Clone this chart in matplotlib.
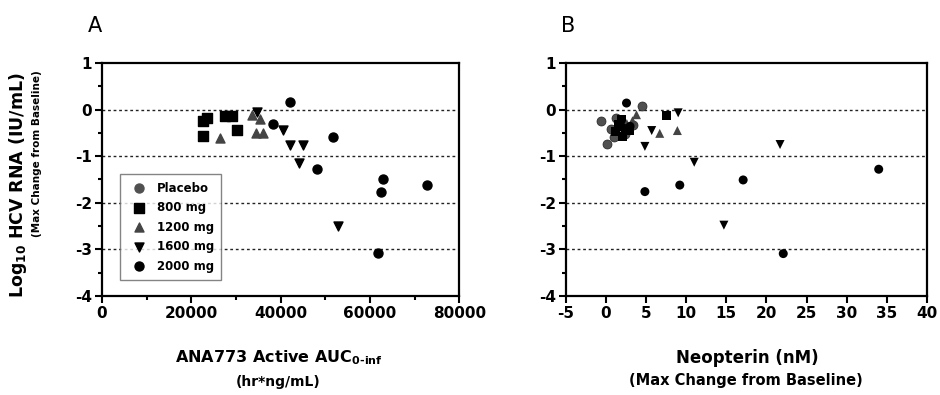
import numpy as np
import matplotlib
matplotlib.use('Agg')
import matplotlib.pyplot as plt
from matplotlib.ticker import MultipleLocator

plt.rcParams['font.family'] = ['DejaVu Sans']
plt.rcParams['font.weight'] = 'bold'
plt.rcParams['axes.unicode_minus'] = False
plt.rcParams['mathtext.default'] = 'bf'

# panel A: ANA773 active AUC vs max change in HCV RNA
auc_800 = [22700, 23460, 22700, 27560, 29070, 30320]
rna_800 = [-0.25, -0.18, -0.56, -0.14, -0.13, -0.43]
auc_1200 = [26440, 33550, 35410, 34440, 36150]
rna_1200 = [-0.61, -0.11, -0.20, -0.51, -0.51]
auc_1600 = [34670, 40500, 42130, 44980, 44220, 52960]
rna_1600 = [-0.05, -0.44, -0.77, -0.75, -1.14, -2.50]
auc_2000 = [42130, 38250, 51830, 48110, 62900, 62460, 72900, 61920]
rna_2000 = [0.16, -0.31, -0.59, -1.27, -1.50, -1.76, -1.61, -3.07]

# panel B: neopterin vs max change in HCV RNA
neo_placebo = [-0.6, 0.1, 4.5, 0.6, 1.3, 3.4, 2.4, 1.0]
rnaB_placebo = [-0.25, -0.73, 0.08, -0.42, -0.18, -0.33, -0.52, -0.58]
neo_800 = [7.5, 1.6, 2.1, 1.9, 2.9, 1.2]
rnaB_800 = [-0.13, -0.32, -0.58, -0.22, -0.45, -0.47]
neo_1200 = [6.7, 8.9, 3.8, 2.6, 3.3]
rnaB_1200 = [-0.51, -0.45, -0.11, -0.30, -0.24]
neo_1600 = [9.0, 5.7, 4.85, 11.0, 21.7, 14.7]
rnaB_1600 = [-0.07, -0.45, -0.79, -1.13, -0.75, -2.48]
neo_2000 = [2.56, 4.85, 9.2, 17.1, 22.1, 34.0, 2.2, 3.0]
rnaB_2000 = [0.14, -1.76, -1.62, -1.51, -3.09, -1.28, -0.40, -0.36]

groups = ['Placebo', '800 mg', '1200 mg', '1600 mg', '2000 mg']
markers = {'Placebo': 'o', '800 mg': 's', '1200 mg': '^', '1600 mg': 'v', '2000 mg': 'o'}
colors = {'Placebo': '#505050', '800 mg': 'black', '1200 mg': '#444444',
          '1600 mg': 'black', '2000 mg': 'black'}

fig = plt.figure(figsize=(9.4, 3.95), dpi=100)
axA = fig.add_axes([0.1085, 0.2506, 0.380, 0.590])
axB = fig.add_axes([0.602, 0.2506, 0.384, 0.590])

dataA = {'800 mg': (auc_800, rna_800), '1200 mg': (auc_1200, rna_1200),
         '1600 mg': (auc_1600, rna_1600), '2000 mg': (auc_2000, rna_2000)}
dataB = {'Placebo': (neo_placebo, rnaB_placebo), '800 mg': (neo_800, rnaB_800),
         '1200 mg': (neo_1200, rnaB_1200), '1600 mg': (neo_1600, rnaB_1600),
         '2000 mg': (neo_2000, rnaB_2000)}

def style(ax):
    ax.set_ylim(-4, 1)
    ax.yaxis.set_major_locator(MultipleLocator(1))
    ax.yaxis.set_minor_locator(MultipleLocator(0.5))
    for y in [0, -1, -2, -3]:
        ax.axhline(y, color='#222222', lw=1.0, ls=(0, (2, 2)), zorder=1)
    for sp in ax.spines.values():
        sp.set_linewidth(1.6)
    ax.tick_params(which='major', direction='out', length=5, width=1.5, labelsize=11, pad=2)
    ax.tick_params(which='minor', direction='out', length=3, width=1.5)

for g in groups:
    if g in dataA:
        x, y = dataA[g]
        axA.scatter(x, y, marker=markers[g], c=colors[g], s=42, zorder=3)
# dummy handles for the legend (placebo has no AUC)
handles = [axA.scatter([], [], marker=markers[g], c=colors[g], s=42) for g in groups]
axA.set_xlim(0, 80000)
axA.xaxis.set_major_locator(MultipleLocator(20000))
axA.xaxis.set_minor_locator(MultipleLocator(10000))
style(axA)
leg = axA.legend(handles, groups, loc='lower left', bbox_to_anchor=(0.035, 0.045),
                 prop={'weight': 'bold', 'size': 8.5}, frameon=True, fancybox=False,
                 handletextpad=0.5, borderpad=0.6, labelspacing=0.55)
leg.get_frame().set_edgecolor('#666666')
leg.get_frame().set_linewidth(1.0)

for g in groups:
    x, y = dataB[g]
    axB.scatter(x, y, marker=markers[g], c=colors[g], s=42, zorder=3,
                edgecolors='#222222' if g == 'Placebo' else 'none', linewidths=0.5)
axB.set_xlim(-5, 40)
axB.xaxis.set_major_locator(MultipleLocator(5))
style(axB)

# axis titles
fig.text(0.019, 0.532, 'Log$_{10}$ HCV RNA (IU/mL)', rotation=90,
         ha='center', va='center', fontsize=12.5)
fig.text(0.039, 0.612, '(Max Change from Baseline)', rotation=90,
         ha='center', va='center', fontsize=7.5)
fig.text(0.297, 0.094, 'ANA773 Active AUC$_{0\\text{-}inf}$', ha='center', va='center',
         fontsize=11.5)
fig.text(0.296, 0.033, '(hr*ng/mL)', ha='center', va='center', fontsize=10)
fig.text(0.795, 0.094, 'Neopterin (nM)', ha='center', va='center', fontsize=12)
fig.text(0.793, 0.036, '(Max Change from Baseline)', ha='center', va='center', fontsize=10.5)

fig.text(0.101, 0.935, 'A', ha='center', va='center', fontsize=15, fontweight='normal')
fig.text(0.604, 0.935, 'B', ha='center', va='center', fontsize=15, fontweight='normal')

plt.savefig('out.png', dpi=100)
